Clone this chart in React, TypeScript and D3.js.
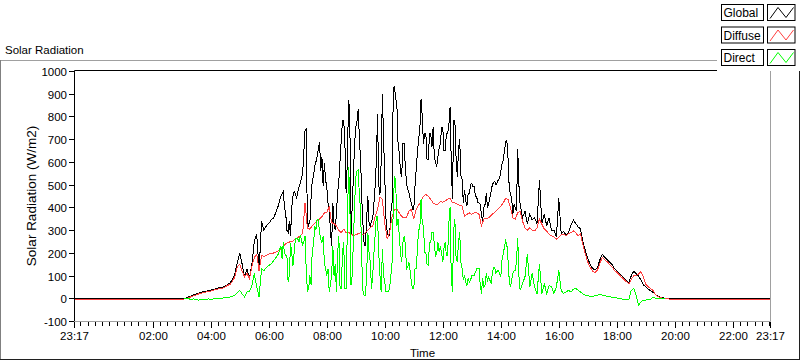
import * as d3 from "d3";
import React from "react";

// samples every 5 minutes from 03:00 to 20:00 (W/m2)
const sampleStart = [3, 0];
const sampleStepMin = 5;

const globalVals = [
  0, 0, 3, 8, 12, 16, 20, 24, 27, 30, 32, 35,
  37, 40, 43, 46, 48, 50, 55, 62, 68, 85, 110, 160,
  200, 150, 95, 130, 90, 150, 250, 285, 120, 340, 300, 320,
  330, 345, 355, 380, 410, 450, 470, 376, 290, 275, 450, 460,
  470, 507, 550, 740, 305, 333, 520, 580, 623, 688, 623, 594,
  493, 392, 232, 330, 380, 520, 700, 783, 463, 871, 275, 536,
  753, 833, 609, 319, 232, 449, 319, 349, 493, 811, 455, 898,
  536, 290, 275, 420, 936, 855, 637, 536, 681, 507, 463, 420,
  392, 566, 700, 877, 681, 724, 609, 724, 753, 600, 623, 681,
  753, 652, 724, 840, 436, 783, 536, 703, 522, 478, 406, 463,
  507, 493, 449, 420, 370, 400, 463, 420, 471, 510, 500, 522,
  560, 609, 690, 616, 460, 370, 400, 659, 414, 355, 384, 330,
  370, 345, 355, 330, 522, 330, 370, 320, 355, 297, 300, 270,
  440, 283, 295, 280, 290, 320, 345, 330, 315, 305, 250, 210,
  175, 150, 132, 125, 137, 170, 195, 181, 172, 160, 150, 132,
  123, 112, 100, 90, 80, 70, 100, 120, 110, 98, 82, 60,
  52, 42, 34, 27, 18, 10, 6, 3, 1, 0, 0, 0, 0,
];

// extra readings half-way between samples, 06:27:30 to 14:37:30 (busy part)
const midStartIndex = 41;
const globalMid = [
  460, 400, 300, 340, 400, 470, 440, 490, 530, 640, 746, 330, 440, 536, 600, 660, 560, 493, 520,
  420, 300, 420, 300, 463, 609, 783, 681, 600, 827, 400, 681, 780, 700, 436, 232, 349, 330, 340,
  420, 600, 500, 600, 700, 350, 275, 380, 913, 880, 681, 560, 681, 580, 480, 440, 392, 493, 640,
  740, 800, 724, 609, 724, 666, 623, 580, 660, 753, 652, 724, 760, 600, 783, 620, 650, 540, 420,
  430, 463, 500, 493, 449, 420, 414, 340, 414, 398, 442, 500, 514, 510, 529, 590, 645, 696, 485,
  442, 414, 384, 500,
];
const directMid = [
  175, 200, 188, 100, 200, 200, 262, 250, 260, 250, 120, 44, 60, 230, 300, 349, 260, 275, 130,
  131, 60, 232, 150, 200, 44, 200, 44, 300, 463, 100, 406, 560, 450, 159, 14, 101, 200, 44,
  200, 362, 200, 29, 100, 29, 30, 100, 392, 522, 349, 200, 246, 240, 140, 120, 44, 130, 218,
  305, 330, 203, 150, 246, 290, 240, 200, 203, 200, 220, 188, 330, 100, 300, 180, 250, 160, 80,
  70, 87, 80, 101, 115, 130, 60, 90, 60, 80, 80, 110, 137, 120, 110, 170, 224, 240, 80,
  80, 123, 166, 100,
];

const diffuseVals = [
  -3, -2, 0, 4, 8, 12, 16, 20, 23, 26, 28, 31,
  33, 36, 39, 42, 44, 46, 51, 58, 62, 76, 96, 140,
  150, 120, 95, 110, 88, 140, 180, 195, 120, 190, 185, 190,
  195, 200, 200, 205, 210, 218, 230, 240, 246, 250, 253, 262,
  268, 275, 285, 420, 310, 305, 319, 330, 340, 349, 360, 376,
  376, 406, 333, 330, 319, 300, 290, 305, 290, 290, 285, 275,
  280, 285, 290, 278, 290, 300, 311, 319, 362, 392, 445, 436,
  330, 262, 290, 360, 392, 392, 376, 360, 355, 355, 385, 392,
  349, 392, 410, 427, 449, 457, 450, 436, 420, 414, 414, 427,
  423, 430, 436, 442, 420, 420, 414, 410, 406, 362, 370, 376,
  370, 376, 376, 370, 320, 349, 352, 355, 365, 375, 384, 395,
  406, 420, 440, 436, 400, 355, 349, 377, 384, 340, 311, 300,
  311, 300, 297, 311, 350, 326, 305, 297, 283, 275, 270, 261,
  270, 280, 283, 275, 285, 290, 297, 290, 275, 285, 235, 195,
  160, 137, 120, 114, 125, 155, 180, 170, 162, 150, 140, 124,
  115, 104, 93, 83, 74, 64, 85, 100, 101, 108, 118, 95,
  62, 52, 44, 35, 18, 8, 4, 1, 0, -1, -3, -4, -4,
];

const directVals: (number | null)[] = [
  null, 0, 0, -2, -3, -2, -5, -7, -4, -6, -3, -2,
  -3, -2, -1, 0, 1, 2, 3, 5, 7, 10, 14, 25,
  36, 20, 7, 29, 29, 58, 110, 50, 7, 131, 123, 137,
  145, 153, 166, 180, 197, 232, 246, 188, 72, 246, 145, 262,
  262, 275, 232, 275, 29, 101, 218, 319, 349, 290, 246, 159,
  101, 29, 101, 100, 29, 275, 44, 246, 44, 580, 58, 246,
  536, 566, 392, 29, 14, 290, 159, 101, 275, 362, 101, 218,
  72, 29, 44, 159, 536, 319, 275, 159, 275, 131, 159, 72,
  44, 131, 305, 436, 319, 203, 145, 246, 290, 188, 246, 232,
  159, 246, 188, 400, 29, 349, 159, 290, 130, 101, 58, 72,
  101, 101, 130, 131, 22, 51, 110, 94, 66, 137, 110, 123,
  94, 197, 253, 166, 51, 110, 123, 268, 36, 66, 94, 197,
  51, 110, 51, 22, 153, 22, 66, 22, 58, 51, 22, 51,
  123, 36, 22, 29, 36, 29, 40, 44, 36, 29, 20, 14,
  12, 10, 10, 12, 14, 18, 15, 12, 10, 8, 6, 4,
  2, 0, -2, -3, -3, -3, 36, 44, 14, -29, -15, -7,
  -7, -5, -4, 7, 2, 0, 0, 0, 0, null, null, null, null,
];

// readings outside the sampled window (night)
const nightGlobal = 0;
const nightDiffuse = -4;
const diffuseNightEnd = "02:50";

const yTicks = [-100, 0, 100, 200, 300, 400, 500, 600, 700, 800, 900, 1000];
const xLabels = ["02:00", "04:00", "06:00", "08:00", "10:00", "12:00", "14:00", "16:00", "18:00", "20:00", "22:00"];
const legendNames = ["Global", "Diffuse", "Direct"];
const colors = ["#000000", "#ff3f3f", "#00ff00"];

const startT = new Date(2000, 0, 1, 23, 17);
const endT = new Date(2000, 0, 2, 23, 17);
const sampleTime = (i: number) =>
  new Date(2000, 0, 2, sampleStart[0], sampleStart[1] + i * sampleStepMin);
const midTime = (i: number) =>
  new Date(2000, 0, 2, sampleStart[0], sampleStart[1] + (i + midStartIndex) * sampleStepMin + 2, 30);
const clock = (s: string) => {
  const [h, m] = s.split(":").map(Number);
  return new Date(2000, 0, 2, h, m);
};

const font = "'Liberation Sans', Arial, sans-serif";

type P = { t: Date; v: number | null };
const byTime = (a: P, b: P) => a.t.getTime() - b.t.getTime();

export default function App() {
  const x = d3.scaleTime().domain([startT, endT]).range([74, 770]);
  const y = d3.scaleLinear().domain([-100, 1000]).range([321, 70.8]);

  const line = d3
    .line<P>()
    .defined((d) => d.v !== null)
    .x((d) => x(d.t))
    .y((d) => y(d.v as number));

  const gPts: P[] = [
    { t: startT, v: nightGlobal },
    ...globalVals.map((v, i) => ({ t: sampleTime(i), v })),
    ...globalMid.map((v, i) => ({ t: midTime(i), v })),
    { t: endT, v: nightGlobal },
  ].sort(byTime);
  const dPts: P[] = [
    { t: startT, v: nightDiffuse },
    { t: clock(diffuseNightEnd), v: nightDiffuse },
    ...diffuseVals.map((v, i) => ({ t: sampleTime(i), v })),
    { t: endT, v: nightDiffuse },
  ];
  const rPts: P[] = [
    ...directVals.map((v, i) => ({ t: sampleTime(i), v })),
    ...directMid.map((v, i) => ({ t: midTime(i), v })),
  ].sort(byTime);

  const majorTimes = [startT, ...xLabels.map(clock), endT];
  const minorTimes = d3.timeMinute
    .every(15)!
    .range(new Date(2000, 0, 1, 23, 30), endT)
    .filter((t) => !majorTimes.some((m) => m.getTime() === t.getTime()));

  const fmt = d3.timeFormat("%H:%M");
  const plotL = 74.5, plotR = 770.5, plotT = 70.5, plotB = 321.5;

  return (
    <div style={{ position: "absolute", left: 0, top: 0 }}>
      <svg width={800} height={361} style={{ display: "block", fontFamily: font }}>
        <rect width={800} height={361} fill="#fff" />
        {/* outer frame */}
        <line x1={0} x2={799} y1={60.5} y2={60.5} stroke="#a0a0a0" />
        <line x1={0.5} x2={0.5} y1={60} y2={360} stroke="#808080" />
        <line x1={0} x2={800} y1={359.5} y2={359.5} stroke="#202020" />
        <line x1={799.5} x2={799.5} y1={60} y2={360} stroke="#202020" />
        <text x={5} y={54} fontSize={11.5} fill="#000">Solar Radiation</text>

        {/* series */}
        <g fill="none" strokeWidth={1} shapeRendering="crispEdges" transform="translate(0,0.25)">
          <path d={line(gPts) || ""} stroke={colors[0]} />
          <path d={line(dPts) || ""} stroke={colors[1]} />
          <path d={line(rPts) || ""} stroke={colors[2]} />
        </g>

        {/* plot border */}
        <line x1={plotL} x2={plotR} y1={plotT} y2={plotT} stroke="#000" />
        <line x1={plotL} x2={plotL} y1={plotT} y2={plotB} stroke="#000" />
        <line x1={plotR} x2={plotR} y1={plotT} y2={plotB} stroke="#a0a0a0" />
        <line x1={plotL} x2={plotR} y1={plotB} y2={plotB} stroke="#a0a0a0" />

        {/* y axis */}
        {yTicks.map((v) => {
          const yy = Math.round(y(v)) + 0.5;
          return (
            <g key={v}>
              <line x1={69} x2={74} y1={yy} y2={yy} stroke="#000" />
              <text x={67} y={yy} dy="0.36em" textAnchor="end" fontSize={11.5} fill="#000">
                {v}
              </text>
            </g>
          );
        })}
        <text
          transform={`translate(36,${(plotT + plotB) / 2}) rotate(-90)`}
          textAnchor="middle"
          fontSize={13.5}
          fill="#000"
        >
          Solar Radiation (W/m2)
        </text>

        {/* x axis */}
        {minorTimes.map((t) => {
          const xx = Math.round(x(t)) + 0.5;
          return <line key={t.getTime()} x1={xx} x2={xx} y1={322} y2={326} stroke="#000" />;
        })}
        {majorTimes.map((t, i) => {
          const xx = Math.round(x(t)) + 0.5;
          return (
            <g key={"M" + i}>
              <line x1={xx} x2={xx} y1={322} y2={328} stroke="#000" />
              <text x={xx} y={340} textAnchor="middle" fontSize={11.5} fill="#000">
                {fmt(t)}
              </text>
            </g>
          );
        })}
        <text x={(plotL + plotR) / 2} y={357} textAnchor="middle" fontSize={11.5} fill="#000">
          Time
        </text>

        {/* legend */}
        <rect x={717} y={0} width={83} height={71} fill="#fff" />
        {legendNames.map((name, i) => {
          const top = 4.5 + i * 22.5;
          const sx = 767.5;
          return (
            <g key={name}>
              <rect x={721.5} y={top} width={42} height={16} fill="#fff" stroke="#000" />
              <text x={723.5} y={top + 12.5} fontSize={12} fill="#000">
                {name}
              </text>
              <rect x={sx} y={top} width={27.5} height={16} fill="#fff" stroke="#000" />
              <polyline
                points={`${sx + 2.5},${top + 14} ${sx + 10.5},${top + 3} ${sx + 18.5},${top + 13} ${sx + 26},${top + 3}`}
                fill="none"
                stroke={colors[i]}
                strokeWidth={1}
              />
            </g>
          );
        })}
      </svg>
    </div>
  );
}
